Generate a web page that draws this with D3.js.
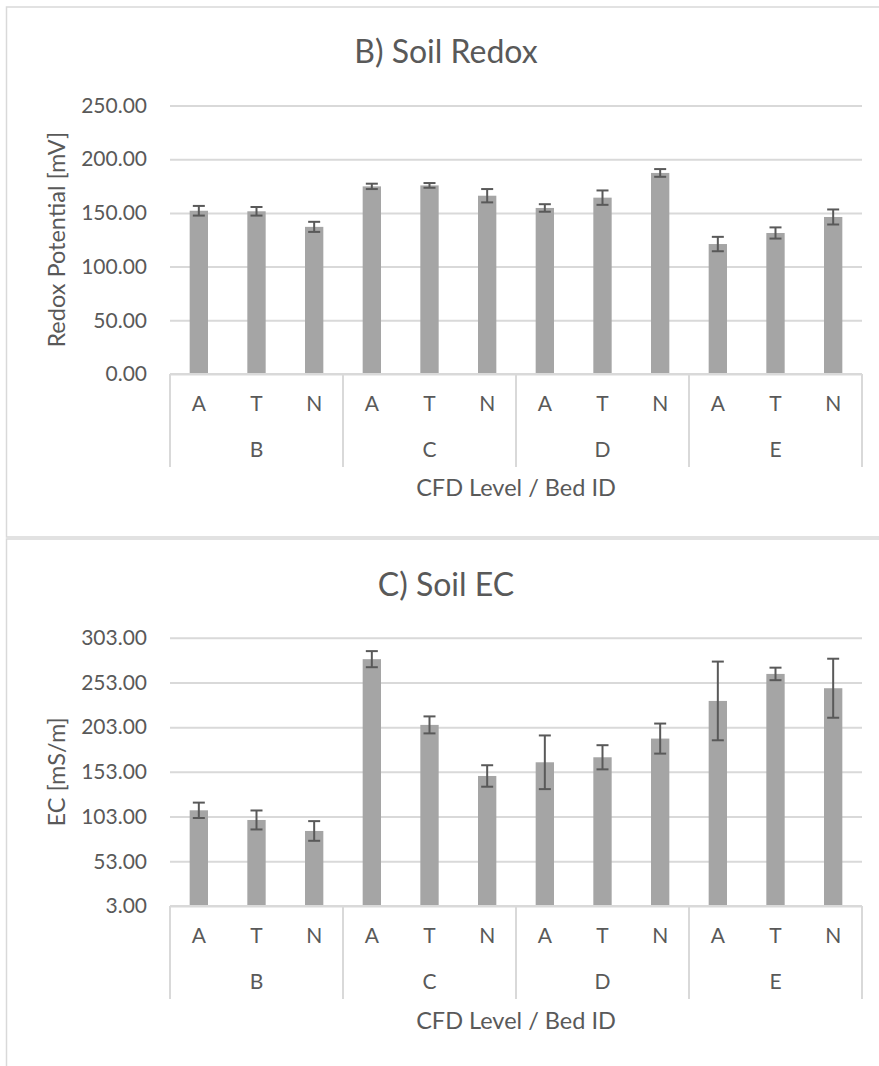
<!DOCTYPE html>
<html>
<head>
<meta charset="utf-8">
<script src="https://cdn.jsdelivr.net/npm/d3@7"></script>
<style>
  html, body { margin: 0; padding: 0; background: #fff; }
  svg { display: block; }
  text { font-family: Lato, "Open Sans", sans-serif; fill: #595959; }
</style>
</head>
<body>
<svg id="fig" width="879" height="1066"></svg>
<script>
// Bed IDs (CFD level) and the treatment inside each bed
const beds = ["B", "C", "D", "E"];
const treatments = ["A", "T", "N"];

// Soil redox potential [mV]: mean and error per bed/treatment
const redoxMean = [152, 151.5, 137, 174.7, 175.6, 166, 154.6, 164.2, 187.2, 121, 131.3, 146.2];
const redoxErr  = [4.5, 4, 4.7, 2.5, 2.2, 6.2, 3.5, 6.7, 3.6, 6.7, 5.2, 7];
const redoxTicks = [0, 50, 100, 150, 200, 250];

// Soil electrical conductivity [mS/m]: mean and error per bed/treatment
const ecMean = [110, 99.2, 86.9, 279, 205.5, 148.4, 163.7, 169.3, 190.2, 232.3, 262.5, 246.5];
const ecErr  = [8.6, 10.6, 11, 9, 9.5, 12, 30, 13.5, 16.8, 44, 7, 33];
const ecTicks = [3, 53, 103, 153, 203, 253, 303];

const svg = d3.select("#fig");
const gridColor = "#d9d9d9";
const barColor = "#a5a5a5";
const errColor = "#595959";

function drawPanel(o) {
  const g = svg.append("g");

  // chart frame
  g.append("rect")
    .attr("x", o.frame[0]).attr("y", o.frame[1])
    .attr("width", o.frame[2]).attr("height", o.frame[3])
    .attr("fill", "#fff").attr("stroke", gridColor).attr("stroke-width", 1.5);

  const keys = [];
  beds.forEach(b => treatments.forEach(t => keys.push(b + "|" + t)));

  const x = d3.scaleBand().domain(keys).range([o.left, o.right]).paddingInner(0).paddingOuter(0);
  const xg = d3.scaleBand().domain(beds).range([o.left, o.right]);
  const y = d3.scaleLinear().domain([o.ticks[0], o.ticks[o.ticks.length - 1]]).range([o.bottom, o.top]);

  // title, centred on the chart frame
  g.append("text")
    .attr("x", o.titleX).attr("y", o.titleY)
    .attr("text-anchor", "middle").attr("dominant-baseline", "middle")
    .style("font-size", "32px").text(o.title);

  // horizontal gridlines and value labels
  const yAxis = d3.axisLeft(y).tickValues(o.ticks).tickSize(-(o.right - o.left))
    .tickPadding(23).tickFormat(d3.format(".2f"));
  const ya = g.append("g").attr("transform", `translate(${o.left},0)`).call(yAxis);
  ya.select(".domain").remove();
  ya.selectAll(".tick line").attr("stroke", gridColor).attr("stroke-width", 2);
  ya.selectAll(".tick text").style("font-size", "21px").style("font-family", "Lato, sans-serif")
    .attr("fill", "#595959");

  // y axis title
  g.append("text")
    .attr("transform", `translate(${o.yTitleX},${(o.top + o.bottom) / 2}) rotate(-90)`)
    .attr("text-anchor", "middle").attr("dominant-baseline", "middle")
    .style("font-size", "23.5px").text(o.yTitle);

  // bars
  const bw = x.bandwidth() * 0.318;
  const base = y(o.ticks[0]);
  g.append("g").selectAll("rect").data(o.mean).join("rect")
    .attr("x", (d, i) => x(keys[i]) + x.bandwidth() / 2 - bw / 2)
    .attr("width", bw)
    .attr("y", d => y(d))
    .attr("height", d => base - y(d))
    .attr("fill", barColor);

  // error bars
  const eg = g.append("g").attr("stroke", errColor).attr("stroke-width", 2);
  const cap = 6;
  o.mean.forEach((m, i) => {
    const cx = x(keys[i]) + x.bandwidth() / 2;
    const y1 = y(m + o.err[i]), y2 = y(m - o.err[i]);
    eg.append("line").attr("x1", cx).attr("x2", cx).attr("y1", y1).attr("y2", y2);
    eg.append("line").attr("x1", cx - cap).attr("x2", cx + cap).attr("y1", y1).attr("y2", y1);
    eg.append("line").attr("x1", cx - cap).attr("x2", cx + cap).attr("y1", y2).attr("y2", y2);
  });

  // category axis: baseline, group separators, labels
  g.append("line").attr("x1", o.left).attr("x2", o.right).attr("y1", base).attr("y2", base)
    .attr("stroke", gridColor).attr("stroke-width", 2);
  const seps = beds.map(b => xg(b)).concat([o.right]);
  g.append("g").selectAll("line").data(seps).join("line")
    .attr("x1", d => d).attr("x2", d => d)
    .attr("y1", base).attr("y2", base + o.sepLen)
    .attr("stroke", gridColor).attr("stroke-width", 2);

  g.append("g").selectAll("text").data(keys).join("text")
    .attr("x", d => x(d) + x.bandwidth() / 2).attr("y", base + o.innerDy)
    .attr("text-anchor", "middle").attr("dominant-baseline", "middle")
    .style("font-size", "21px").text(d => d.split("|")[1]);

  g.append("g").selectAll("text").data(beds).join("text")
    .attr("x", d => xg(d) + xg.bandwidth() / 2).attr("y", base + o.outerDy)
    .attr("text-anchor", "middle").attr("dominant-baseline", "middle")
    .style("font-size", "21px").text(d => d);

  g.append("text")
    .attr("x", (o.left + o.right) / 2).attr("y", base + o.xTitleDy)
    .attr("text-anchor", "middle").attr("dominant-baseline", "middle")
    .style("font-size", "23.5px").text("CFD Level / Bed ID");
}

drawPanel({
  frame: [6.5, 7, 900, 530],
  title: "B) Soil Redox", titleX: 446, titleY: 55,
  left: 170, right: 862, top: 105.5, bottom: 374,
  ticks: redoxTicks, mean: redoxMean, err: redoxErr,
  yTitle: "Redox Potential [mV]", yTitleX: 59,
  innerDy: 32, outerDy: 78, sepLen: 93, xTitleDy: 116
});

drawPanel({
  frame: [6.5, 539, 900, 560],
  title: "C) Soil EC", titleX: 446, titleY: 588,
  left: 170, right: 862, top: 637.7, bottom: 906,
  ticks: ecTicks, mean: ecMean, err: ecErr,
  yTitle: "EC [mS/m]", yTitleX: 59,
  innerDy: 32, outerDy: 78, sepLen: 93, xTitleDy: 117
});
</script>
</body>
</html>
